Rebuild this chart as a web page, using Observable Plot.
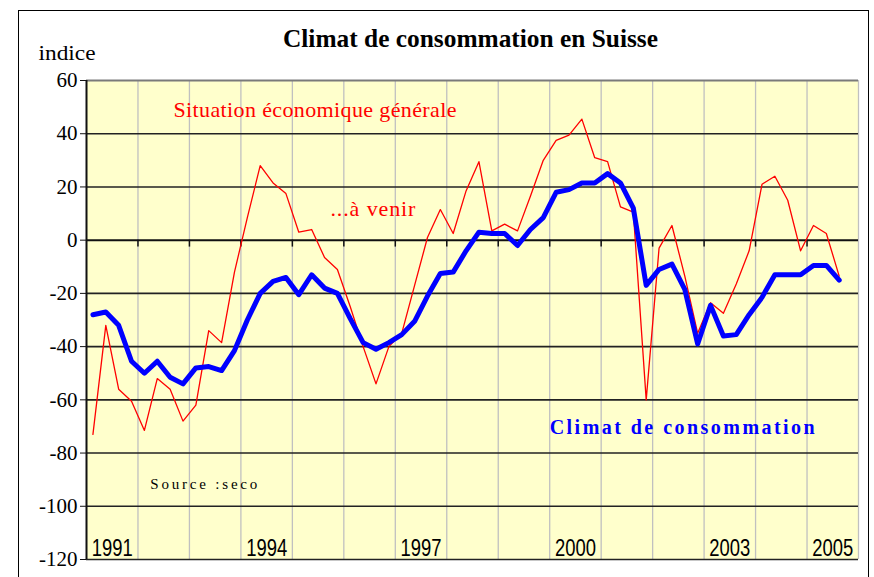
<!DOCTYPE html>
<html><head><meta charset="utf-8">
<script src="https://cdn.jsdelivr.net/npm/d3@7"></script>
<script src="https://cdn.jsdelivr.net/npm/@observablehq/plot@0.6"></script>
<style>
html,body{margin:0;padding:0;background:#fff;}
#wrap{position:relative;width:874px;height:577px;overflow:hidden;background:#fff;}
#wrap svg{position:absolute;left:0;top:0;}
#border{position:absolute;left:18px;top:10px;width:851px;height:620px;border:1.5px solid #000;box-sizing:border-box;pointer-events:none;}
</style></head>
<body><div id="wrap"></div>
<script>
// ---- data (quarterly, starting 1991 Q1) ----
const startYear = 1991;
const endYear = 2006;
const situation = [ // "Situation économique générale ...à venir" (red)
  -73, -32, -56, -60.5, -71.5, -52, -56, -68, -62, -34, -38.5, -12,
  8.5, 28, 21.5, 17.5, 3, 4, -6.5, -11, -25, -40, -54, -40,
  -35, -17, 1, 11.5, 2.5, 18.5, 29.5, 3.5, 6, 3.5, 16.5, 30,
  37.5, 39.5, 45.5, 31, 29.5, 12.5, 10.5, -60, -3, 5.5, -13.5, -35,
  -23.5, -27.5, -16.5, -4, 21, 24, 15, -4, 5.5, 2.5, -13.5
];
const climat = [ // "Climat de consommation" (blue)
  -28, -27, -32, -45.5, -50, -45.5, -51.5, -54, -48, -47.5, -49, -41.5,
  -30, -20, -15.5, -14, -20.5, -13, -18, -20, -29.5, -38.5, -41, -38.5,
  -35.5, -30.5, -21, -12.5, -12, -4, 3, 2.5, 2.5, -2, 4, 8.5,
  18, 19, 21.5, 21.5, 25, 21.5, 12, -17, -11, -9, -18.5, -39,
  -24.5, -36, -35.5, -28, -21.5, -13, -13, -13, -9.5, -9.5, -15
];
const yTicks = [60, 40, 20, 0, -20, -40, -60, -80, -100, -120];
const yearLabels = [1991, 1994, 1997, 2000, 2003, 2005];
const yearGrid = d3.range(startYear + 1, endYear + 1);
const titleText = "Climat de consommation en Suisse";
const yAxisLabel = "indice";
const annotations = [
  {text: "Situation économique générale", x: 1992.69, y: 46.2, color: "#FF0000", weight: "normal", size: 22},
  {text: "...à venir", x: 1995.74, y: 9, color: "#FF0000", weight: "normal", size: 22},
  {text: "Climat de consommation", x: 2000.0, y: -73, color: "#0000FF", weight: "bold", size: 20},
  {text: "Source :seco", x: 1992.24, y: -93.6, color: "#000000", weight: "normal", size: 15}
];

const serif = "'Liberation Serif', 'Times New Roman', serif";
const narrow = "'Liberation Sans Narrow', 'Arial Narrow', 'Liberation Sans', sans-serif";

const toRows = arr => arr.map((v, i) => ({t: startYear + (i + 0.5) / 4, v}));
const redRows = toRows(situation);
const blueRows = toRows(climat);

const chart = Plot.plot({
  width: 874, height: 577,
  marginLeft: 86, marginRight: 16, marginTop: 80, marginBottom: 18,
  style: {background: "transparent", fontFamily: serif, color: "#000"},
  x: {domain: [startYear, endYear], axis: null},
  y: {domain: [-120, 60], axis: null},
  marks: [
    Plot.frame({fill: "#FFFFCC", stroke: null}),
    Plot.ruleX(yearGrid, {stroke: "#c0c0c0", strokeWidth: 1.3}),
    Plot.ruleY(yTicks.filter(d => d !== 60 && d !== 0), {stroke: "#222", strokeWidth: 1.6}),
    Plot.ruleY([60], {stroke: "#7a7a7a", strokeWidth: 2}),
    Plot.ruleY([0], {stroke: "#111", strokeWidth: 2}),
    Plot.ruleX(yearGrid.filter(d => d < endYear), {y1: 0, y2: -2.6, stroke: "#111", strokeWidth: 1.5}),
    Plot.ruleX([startYear], {stroke: "#111", strokeWidth: 2}),
    Plot.axisY({ticks: yTicks, tickSize: 6, tickPadding: 3, fontSize: 21, fontFamily: serif, tickFormat: d => String(d), stroke: "#111"}),
    Plot.text(yearLabels, {x: d => d + 0.5, y: -120, dy: -4, text: d => String(d), lineAnchor: "bottom",
      fontSize: 23, fontFamily: narrow, fill: "#000"}),
    Plot.line(redRows, {x: "t", y: "v", stroke: "#FF0000", strokeWidth: 1.3}),
    Plot.line(blueRows, {x: "t", y: "v", stroke: "#0000FF", strokeWidth: 5, strokeLinejoin: "round", strokeLinecap: "round"}),
    ...annotations.map(a => Plot.text([a], {x: "x", y: "y", text: "text", textAnchor: "start", lineAnchor: "bottom",
      fill: a.color, fontSize: a.size, fontWeight: a.weight, fontFamily: serif})),
    Plot.text([titleText], {frameAnchor: "top", dx: -2, dy: -34, lineAnchor: "bottom", fontSize: 25, fontWeight: "bold", fill: "#000", fontFamily: serif}),
    Plot.text([yAxisLabel], {frameAnchor: "top-left", dx: -48, dy: -21, textAnchor: "start", lineAnchor: "bottom", fontSize: 22, fill: "#000", fontFamily: serif})
  ]
});
const wrap = document.getElementById("wrap");
wrap.appendChild(chart);
// fit text widths / faces to the reference typography
const widths = new Map([
  [titleText, 375], [yAxisLabel, 57],
  ["Situation économique générale", 283], ["...à venir", 85],
  ["Climat de consommation", 265], ["Source :seco", 107]
]);
const tickStrings = yTicks.map(String);
const yearStrings = yearLabels.map(String);
d3.select(chart).selectAll("text").each(function() {
  const t = this.textContent;
  if (widths.has(t)) {
    this.setAttribute("textLength", widths.get(t));
    this.setAttribute("lengthAdjust", (t === titleText || t === yAxisLabel) ? "spacingAndGlyphs" : "spacing");
  } else if (yearStrings.includes(t)) {
    this.setAttribute("textLength", 41);
    this.setAttribute("lengthAdjust", "spacingAndGlyphs");
  } else if (tickStrings.includes(t)) {
    this.style.fontFamily = serif;
    this.setAttribute("font-family", serif);
    this.style.fontVariant = "normal";
  }
});
const border = document.createElement("div");
border.id = "border";
wrap.appendChild(border);
</script>
</body></html>
